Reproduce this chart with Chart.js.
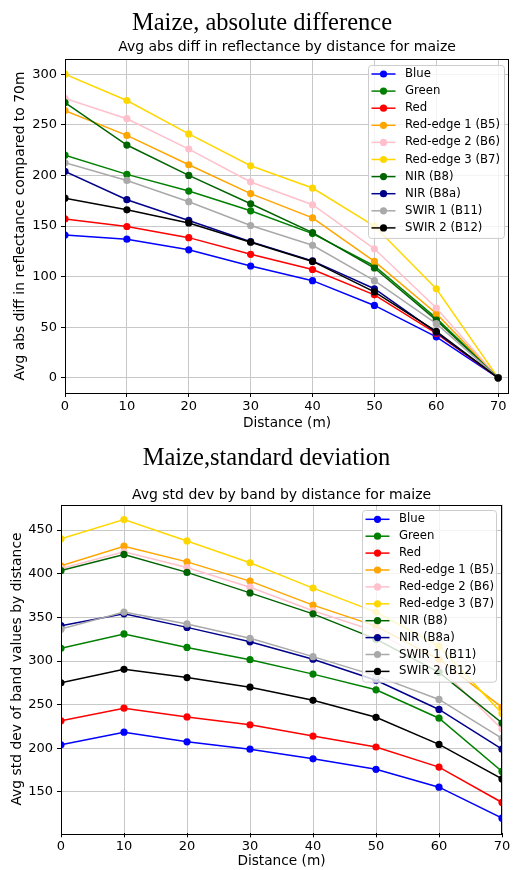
<!DOCTYPE html>
<html lang="en">
<head>
<meta charset="UTF-8">
<title>Maize reflectance by distance</title>
<script src="https://cdn.jsdelivr.net/npm/chart.js"></script>
<style>
  body { margin: 0; width: 513px; height: 870px; overflow: hidden; background: #fff; position: relative; }
  .heading { position: absolute; font-family: "Liberation Serif", "Times New Roman", serif; font-size: 24.5px; line-height: 1; white-space: nowrap; text-align: center; color: #000; z-index: 2; }
  canvas { position: absolute; left: 0; }
</style>
</head>
<body>
<div class="heading" style="left:0; width:524px; top:9.5px">Maize, absolute difference</div>
<canvas id="absDiffChart" width="513" height="432" style="top:0"></canvas>
<div class="heading" style="left:0; width:533px; top:444.5px">Maize,standard deviation</div>
<canvas id="stdDevChart" width="513" height="438" style="top:432px"></canvas>

<script>
// distances from the field edge (m)
const distances = [0, 10, 20, 30, 40, 50, 60, 70];

const bands = ['Blue', 'Green', 'Red', 'Red-edge 1 (B5)', 'Red-edge 2 (B6)', 'Red-edge 3 (B7)',
               'NIR (B8)', 'NIR (B8a)', 'SWIR 1 (B11)', 'SWIR 2 (B12)'];
const bandColors = ['#0000ff', '#008000', '#ff0000', '#ffa500', '#ffc0cb', '#ffd700',
                    '#006400', '#00008b', '#a9a9a9', '#000000'];

// avg abs diff in reflectance compared to 70m
const absBlue  = [141, 137, 126.5, 110.5, 96, 71.5, 40.5, 0];
const absGreen = [220, 201, 184.5, 165, 142.5, 110.5, 59, 0];
const absRed   = [157, 149.5, 138.5, 122, 107, 82, 44, 0];
const absB5    = [264, 239.5, 210.5, 182, 158, 115, 63.5, 0];
const absB6    = [276, 256, 226, 193.5, 171, 127.5, 69, 0];
const absB7    = [300, 274, 241, 209.5, 187.5, 150, 88, 0];
const absB8    = [272, 230, 200, 172, 143.5, 108.5, 57, 0];
const absB8a   = [204, 176, 155.5, 134.5, 115.5, 88, 45, 0];
const absB11   = [212.5, 195, 174, 150.5, 131, 96, 53.5, 0];
const absB12   = [177.5, 166, 153, 134, 115, 85, 46, 0];

// avg std dev of band values
const stdBlue  = [204, 218.5, 207.5, 199, 188, 176, 155.5, 120];
const stdGreen = [314.5, 331, 315.5, 301.5, 285, 267, 234.5, 173.5];
const stdRed   = [231.5, 246, 236, 227, 214, 201.5, 178.5, 138];
const stdB5    = [409, 431.5, 413.5, 391.5, 364, 340, 302, 247];
const stdB6    = [406, 425, 407, 384.5, 357.5, 334, 293, 222];
const stdB7    = [440, 462, 437.5, 412.5, 383.5, 356, 317, 240];
const stdB8    = [403.5, 422, 401.5, 378, 354, 325, 287, 229];
const stdB8a   = [340.5, 354, 338.5, 322, 302, 278, 244.5, 199];
const stdB11   = [336.5, 356, 342.5, 326, 305, 283, 256, 211.5];
const stdB12   = [275, 290.5, 281, 270, 255, 235.5, 204.5, 165];

const absTicks = [0, 50, 100, 150, 200, 250, 300];
const stdTicks = [150, 200, 250, 300, 350, 400, 450];

Chart.defaults.font.family = 'DejaVu Sans';
Chart.defaults.color = '#000';

// matplotlib-like frame and legend inside the axes
const frameAndLegend = {
  id: 'frameAndLegend',
  afterDatasetsDraw(chart, args, opts) {
    const { ctx, chartArea: a } = chart;
    ctx.save();
    ctx.strokeStyle = '#000';
    ctx.lineWidth = 1;
    ctx.strokeRect(Math.round(a.left) + 0.5, Math.round(a.top) + 0.5,
                   Math.round(a.right - a.left) - 1, Math.round(a.bottom - a.top));

    const sets = chart.data.datasets;
    const x0 = a.right - opts.right - opts.width;
    const y0 = a.top + opts.top;
    const h = opts.first * 2 + opts.spacing * (sets.length - 1) + 1;
    ctx.beginPath();
    ctx.roundRect(x0 + 0.5, y0 + 0.5, opts.width, h, 3);
    ctx.fillStyle = 'rgba(255,255,255,0.8)';
    ctx.fill();
    ctx.strokeStyle = '#cccccc';
    ctx.stroke();

    ctx.font = '11.7px "DejaVu Sans"';
    ctx.textBaseline = 'middle';
    sets.forEach((ds, i) => {
      const y = y0 + opts.first + i * opts.spacing;
      ctx.strokeStyle = ds.borderColor;
      ctx.lineWidth = 1.5;
      ctx.beginPath();
      ctx.moveTo(x0 + 3.5, y);
      ctx.lineTo(x0 + 27.5, y);
      ctx.stroke();
      ctx.fillStyle = ds.borderColor;
      ctx.beginPath();
      ctx.arc(x0 + 15.5, y, 3.6, 0, Math.PI * 2);
      ctx.fill();
      ctx.fillStyle = '#000';
      ctx.fillText(ds.label, x0 + 37, y);
    });
    ctx.restore();
  }
};

function makeChart(id, series, cfg) {
  return new Chart(document.getElementById(id), {
    type: 'line',
    data: {
      datasets: bands.map((band, i) => ({
        label: band,
        data: distances.map((d, j) => ({ x: d, y: series[i][j] })),
        borderColor: bandColors[i],
        backgroundColor: bandColors[i],
        borderWidth: 1.5,
        pointRadius: 3.6,
        pointBorderWidth: 0,
        order: bands.length - 1 - i,
        clip: 0
      }))
    },
    options: {
      responsive: false,
      animation: false,
      layout: { padding: { left: 0, right: cfg.padRight, top: 0, bottom: 0 } },
      scales: {
        x: {
          type: 'linear',
          min: 0,
          max: cfg.xMax,
          afterBuildTicks: s => { s.ticks = distances.map(v => ({ value: v })); },
          afterFit: s => { s.height = cfg.xAxisHeight; },
          ticks: { font: { size: 13 }, padding: 2, maxRotation: 0 },
          grid: { color: '#c8c8c8', tickColor: '#000', tickLength: 4 },
          border: { display: false },
          title: { display: true, text: 'Distance (m)', font: { size: 13.7 }, padding: { top: 0, bottom: 0 } }
        },
        y: {
          min: cfg.yMin,
          max: cfg.yMax,
          afterBuildTicks: s => { s.ticks = cfg.yTicks.map(v => ({ value: v })); },
          afterFit: s => { s.width = cfg.yAxisWidth; },
          ticks: { font: { size: 13 }, padding: 4 },
          grid: { color: '#c8c8c8', tickColor: '#000', tickLength: 4 },
          border: { display: false },
          title: { display: true, text: cfg.yTitle, font: { size: 13.9 }, padding: { top: cfg.yTitlePad, bottom: 0 } }
        }
      },
      plugins: {
        legend: { display: false },
        tooltip: { enabled: false },
        title: {
          display: true,
          text: cfg.title,
          fullSize: false,
          font: { size: 14, weight: 'normal' },
          padding: cfg.titlePad
        },
        frameAndLegend: cfg.legend
      }
    },
    plugins: [frameAndLegend]
  });
}

makeChart('absDiffChart',
  [absBlue, absGreen, absRed, absB5, absB6, absB7, absB8, absB8a, absB11, absB12], {
    title: 'Avg abs diff in reflectance by distance for maize',
    titlePad: { top: 38.6, bottom: 3.6 },
    yTitle: 'Avg abs diff in reflectance compared to 70m',
    yTitlePad: 12,
    xMax: 71.75, yMin: -15, yMax: 315, yTicks: absTicks,
    padRight: 1, yAxisWidth: 65, xAxisHeight: 39,
    legend: { right: 5, top: 6, width: 136, first: 9, spacing: 17.1 }
  });

makeChart('stdDevChart',
  [stdBlue, stdGreen, stdRed, stdB5, stdB6, stdB7, stdB8, stdB8a, stdB11, stdB12], {
    title: 'Avg std dev by band by distance for maize',
    titlePad: { top: 54.6, bottom: 1.3 },
    yTitle: 'Avg std dev of band values by distance',
    yTitlePad: 9,
    xMax: 70, yMin: 102.7, yMax: 479, yTicks: stdTicks,
    padRight: 11, yAxisWidth: 61, xAxisHeight: 36.7,
    legend: { right: 6, top: 5.3, width: 134, first: 9.3, spacing: 16.9 }
  });
</script>
</body>
</html>
